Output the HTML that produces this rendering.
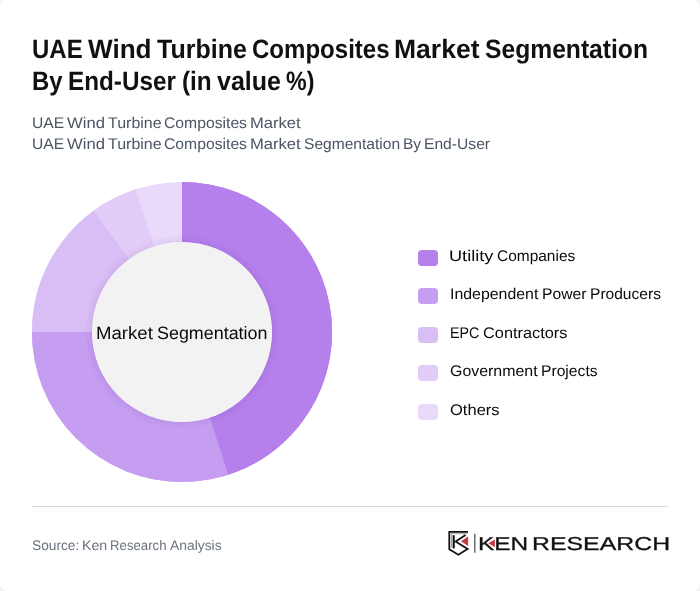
<!DOCTYPE html>
<html lang="en">
<head>
<meta charset="utf-8">
<title>UAE Wind Turbine Composites Market Segmentation By End-User</title>
<style>
*{box-sizing:border-box;margin:0;padding:0}
html,body{width:700px;height:591px;overflow:hidden;background:#f3f4f6}
body{font-family:"Liberation Sans",sans-serif;color:#111;font-variant-ligatures:none;text-rendering:geometricPrecision}
.card{position:absolute;left:0;top:0;width:700px;height:591px;background:#fff;border-radius:8px;overflow:hidden}
.t{position:absolute;left:0;top:0;margin:0;font-weight:400;white-space:nowrap;list-style:none}
.t span{position:absolute;display:block;line-height:40px;height:40px;transform-origin:0 50%;white-space:nowrap}
.t div,.t li{display:block}
.title{font-size:26.5px;font-weight:700;color:#111}
.sub{font-size:15.4px;color:#4b5563}
.center{font-size:17.8px;color:#0a0a0a}
.legend{font-size:15.4px;color:#0a0a0a}
.legend i{position:absolute;left:418px;width:20px;height:16px;border-radius:4px}
.src{font-size:13.8px;color:#6b7280}
.logot{font-size:18.6px;color:#111;-webkit-text-stroke:0.3px #111}
.donut{position:absolute;left:32px;top:182px;width:300px;height:300px}
.rule{position:absolute;left:32px;top:506px;width:636px;height:1px;background:#d5d8dc}
.logo{position:absolute;left:444px;top:526px;width:40px;height:34px}
</style>
</head>
<body>
<div class="card">
<h1 class="t title"><div><span style="left:32.14px;top:29px;transform:scaleX(0.9047)">UAE</span> <span style="left:88.20px;top:29px;transform:scaleX(0.9849)">Wind</span> <span style="left:156.96px;top:29px;transform:scaleX(0.9447)">Turbine</span> <span style="left:251.89px;top:29px;transform:scaleX(0.9070)">Composites</span> <span style="left:394.25px;top:29px;transform:scaleX(1.0006)">Market</span> <span style="left:485.20px;top:29px;transform:scaleX(0.9302)">Segmentation</span></div>
<div><span style="left:32.32px;top:61px;transform:scaleX(0.9000)">By</span> <span style="left:68.40px;top:61px;transform:scaleX(0.9158)">End-User</span> <span style="left:182.25px;top:61px;transform:scaleX(0.9186)">(in</span> <span style="left:216.96px;top:61px;transform:scaleX(0.9444)">value</span> <span style="left:286.34px;top:61px;transform:scaleX(0.8760)">%)</span></div></h1>
<div class="t sub"><div><span style="left:31.63px;top:104px;transform:scaleX(1.0151)">UAE</span> <span style="left:67.40px;top:104px;transform:scaleX(1.0824)">Wind</span> <span style="left:108.14px;top:104px;transform:scaleX(1.0384)">Turbine</span> <span style="left:163.73px;top:104px;transform:scaleX(1.0212)">Composites</span> <span style="left:249.75px;top:104px;transform:scaleX(1.0776)">Market</span></div>
<div><span style="left:31.63px;top:125px;transform:scaleX(1.0151)">UAE</span> <span style="left:67.40px;top:125px;transform:scaleX(1.0824)">Wind</span> <span style="left:108.14px;top:125px;transform:scaleX(1.0384)">Turbine</span> <span style="left:163.73px;top:125px;transform:scaleX(1.0212)">Composites</span> <span style="left:249.75px;top:125px;transform:scaleX(1.0776)">Market</span> <span style="left:304.14px;top:125px;transform:scaleX(1.0113)">Segmentation</span> <span style="left:402.94px;top:125px;transform:scaleX(1.0061)">By</span> <span style="left:423.73px;top:125px;transform:scaleX(1.0157)">End-User</span></div></div>
<svg class="donut" viewBox="0 0 300 300">
<defs><radialGradient id="hs" cx="150" cy="150" r="98" gradientUnits="userSpaceOnUse"><stop offset="0.91" stop-color="#3b0764" stop-opacity="0.075"/><stop offset="1" stop-color="#3b0764" stop-opacity="0"/></radialGradient></defs>
<g fill="none" stroke-width="60" transform="rotate(-90 150 150)">
<circle cx="150" cy="150" r="120" stroke="#e9d9fa"/>
<circle cx="150" cy="150" r="120" stroke="#e2cdf8" pathLength="100" stroke-dasharray="95 5"/>
<circle cx="150" cy="150" r="120" stroke="#d9bef6" pathLength="100" stroke-dasharray="90 10"/>
<circle cx="150" cy="150" r="120" stroke="#c59df1" pathLength="100" stroke-dasharray="75 25"/>
<circle cx="150" cy="150" r="120" stroke="#b580ec" pathLength="100" stroke-dasharray="45 55"/>
</g>
<circle cx="150" cy="150" r="98" fill="url(#hs)"/>
<circle cx="150" cy="150" r="90" fill="#f2f2f2"/>
</svg>
<div class="t center"><span style="left:96.23px;top:313px;transform:scaleX(1.0464)">Market</span> <span style="left:157.14px;top:313px;transform:scaleX(1.0070)">Segmentation</span></div>
<ul class="t legend">
<li><i style="top:250px;background:#b580ec"></i><span style="left:449.42px;top:237px;transform:scaleX(1.1807)">Utility</span> <span style="left:496.75px;top:237px;transform:scaleX(1.0052)">Companies</span></li>
<li><i style="top:288px;background:#c59df1"></i><span style="left:449.75px;top:275px;transform:scaleX(1.0321)">Independent</span> <span style="left:542.33px;top:275px;transform:scaleX(1.0190)">Power</span> <span style="left:590.04px;top:275px;transform:scaleX(1.0110)">Producers</span></li>
<li><i style="top:327px;background:#d9bef6"></i><span style="left:449.94px;top:314px;transform:scaleX(0.9311)">EPC</span> <span style="left:482.70px;top:314px;transform:scaleX(1.0620)">Contractors</span></li>
<li><i style="top:365px;background:#e2cdf8"></i><span style="left:449.72px;top:352px;transform:scaleX(1.0340)">Government</span> <span style="left:541.23px;top:352px;transform:scaleX(1.0177)">Projects</span></li>
<li><i style="top:404px;background:#e9d9fa"></i><span style="left:449.69px;top:391px;transform:scaleX(1.0733)">Others</span></li>
</ul>
<div class="rule"></div>
<div class="t src"><span style="left:31.75px;top:526px;transform:scaleX(0.9934)">Source:</span> <span style="left:81.62px;top:526px;transform:scaleX(1.0267)">Ken</span> <span style="left:110.30px;top:526px;transform:scaleX(0.9579)">Research</span> <span style="left:170.20px;top:526px;transform:scaleX(1.0039)">Analysis</span></div>
<svg class="logo" viewBox="0 0 40 34">
<path d="M4.4 5.9H24M5.3 5V23.3L14.3 28.8L23.6 23L11.6 15.4L21.6 9" fill="none" stroke="#111" stroke-width="1.8" stroke-linejoin="miter"/>
<path d="M9.7 9.2V22.4" fill="none" stroke="#111" stroke-width="2.1"/>
<path d="M7.5 21.8V7.7H23.5" fill="none" stroke="#8a8a8a" stroke-width="0.8"/>
<path d="M17 15.3L24.1 10.6V20.1Z" fill="#c8373f"/>
<path d="M30.8 7.8V26.8" fill="none" stroke="#555" stroke-width="1.3"/>
</svg>
<div class="t logot"><span style="left:477.83px;top:524px;transform:scaleX(1.3135)">KEN</span> <span style="left:531.90px;top:524px;transform:scaleX(1.3367)">RESEARCH</span></div>
<svg style="position:absolute;left:476px;top:530px;width:24px;height:28px" viewBox="0 0 24 28"><path d="M12.3 13.3L18.9 9.6V16.9Z" fill="#c8373f"/></svg>
</div>
</body>
</html>
